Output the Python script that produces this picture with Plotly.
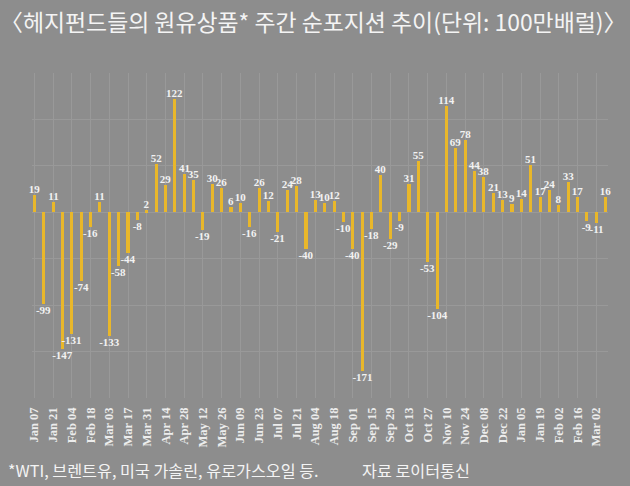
import plotly.graph_objects as go

weeks = ["Jan 07", "Jan 14", "Jan 21", "Jan 28", "Feb 04", "Feb 11", "Feb 18", "Feb 25",
         "Mar 03", "Mar 10", "Mar 17", "Mar 24", "Mar 31", "Apr 07", "Apr 14", "Apr 21",
         "Apr 28", "May 05", "May 12", "May 19", "May 26", "Jun 02", "Jun 09", "Jun 16",
         "Jun 23", "Jun 30", "Jul 07", "Jul 14", "Jul 21", "Jul 28", "Aug 04", "Aug 11",
         "Aug 18", "Aug 25", "Sep 01", "Sep 08", "Sep 15", "Sep 22", "Sep 29", "Oct 06",
         "Oct 13", "Oct 20", "Oct 27", "Nov 03", "Nov 10", "Nov 17", "Nov 24", "Dec 01",
         "Dec 08", "Dec 15", "Dec 22", "Dec 29", "Jan 05", "Jan 12", "Jan 19", "Jan 26",
         "Feb 02", "Feb 09", "Feb 16", "Feb 23", "Mar 02", "Mar 09"]

net_position = [19, -99, 11, -147, -131, -74, -16, 11, -133, -58,
                -44, -8, 2, 52, 29, 122, 41, 35, -19, 30,
                26, 6, 10, -16, 26, 12, -21, 24, 28, -40,
                13, 10, 12, -10, -40, -171, -18, 40, -29, -9,
                31, 55, -53, -104, 114, 69, 78, 44, 38, 21,
                13, 9, 14, 51, 17, 24, 8, 33, 17, -9,
                -11, 16]

tick_labels = weeks[::2]

title_text = "〈헤지펀드들의 원유상품* 주간 순포지션 추이(단위: 100만배럴)〉"
note_text = "*WTI, 브렌트유, 미국 가솔린, 유로가스오일 등."
source_text = "자료 로이터통신"

BG = "#8d8d8d"
GRID = "#999999"
BAR = "#e9b72a"
TXT = "#f2f2f2"

fig = go.Figure(go.Bar(
    x=weeks, y=net_position,
    marker=dict(color=BAR, line=dict(width=0)),
    width=0.33,
    text=[str(v) for v in net_position],
    textposition="outside",
    constraintext="none",
    cliponaxis=False,
    textfont=dict(family="Liberation Serif", size=11, color=TXT, weight="bold"),
))

fig.update_layout(
    width=630, height=486,
    paper_bgcolor=BG, plot_bgcolor=BG,
    margin=dict(l=32, r=22, t=73, b=88, autoexpand=False),
    showlegend=False,
    bargap=0,
    xaxis=dict(
        type="category",
        automargin=False,
        range=[-0.25, len(weeks) - 0.75],
        tickvals=tick_labels, ticktext=tick_labels,
        tickangle=-90,
        showgrid=True, gridcolor=GRID, gridwidth=1,
        showline=False, zeroline=False, ticks="",
        ticklabelstandoff=6,
        tickfont=dict(family="Liberation Serif", size=12.5, color="#ececec", weight="bold"),
    ),
    yaxis=dict(
        automargin=False,
        range=[-200, 150], dtick=50,
        showgrid=True, gridcolor=GRID, gridwidth=1,
        zeroline=False, showticklabels=False, showline=False, ticks="",
    ),
    annotations=[
        dict(text=title_text, xref="paper", yref="paper", x=(313 - 32) / 576, y=1,
             yshift=52, xanchor="center", yanchor="middle", showarrow=False,
             font=dict(family="Noto Sans CJK KR", size=22.9, color="#f4f4f4")),
        dict(text=note_text, xref="paper", yref="paper", x=(6 - 32) / 576, y=0,
             yshift=-72, xanchor="left", yanchor="middle", showarrow=False,
             font=dict(family="Noto Sans CJK KR", size=16.2, color="#f4f4f4")),
        dict(text=source_text, xref="paper", yref="paper", x=(360 - 32) / 576, y=0,
             yshift=-72, xanchor="left", yanchor="middle", showarrow=False,
             font=dict(family="Noto Sans CJK KR", size=16.2, color="#f4f4f4")),
    ],
)

fig.write_html("out.html", config={"displayModeBar": False},
               post_script="document.body.style.margin='0';document.body.style.background='#8d8d8d';")
